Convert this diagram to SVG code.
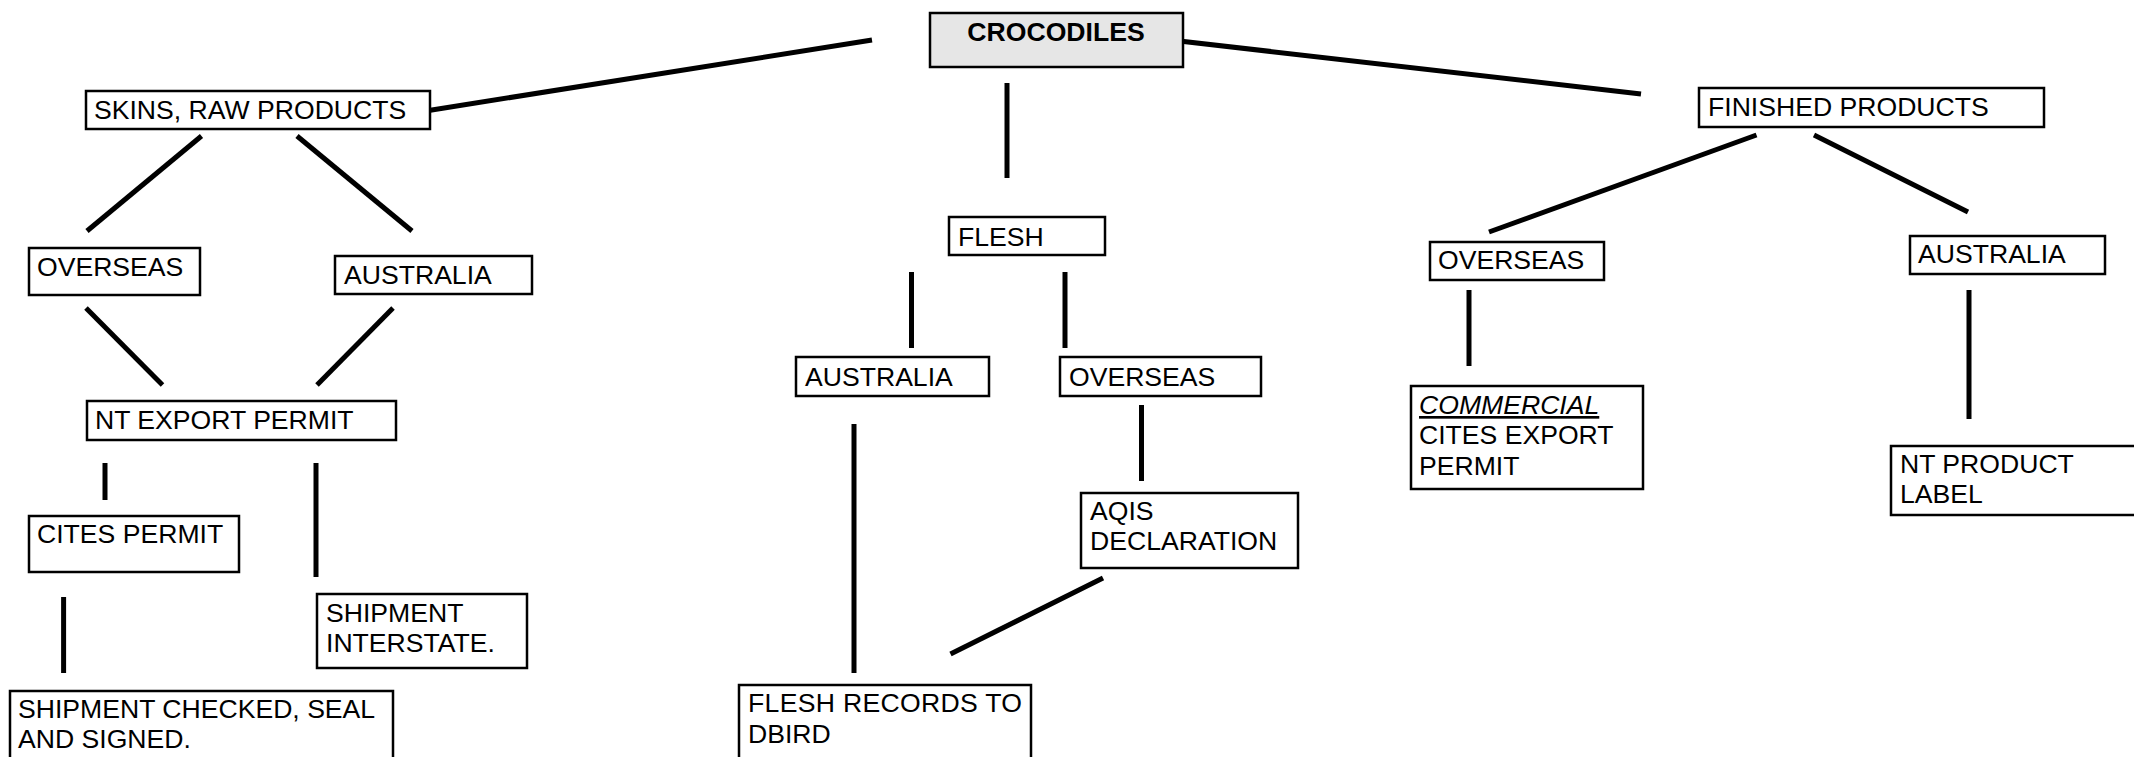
<svg xmlns="http://www.w3.org/2000/svg" width="2134" height="757" viewBox="0 0 2134 757">
<style>
.box{fill:#ffffff;stroke:#000;stroke-width:2.5}
.t{font-family:"Liberation Sans",Arial,sans-serif;font-size:26.6px;fill:#000}
.b{font-weight:bold}
.c line{stroke:#000;stroke-width:5}
</style>
<rect width="2134" height="757" fill="#ffffff"/>
<g id="connectors" class="c">
<line x1="413" y1="113" x2="872" y2="40"/>
<line x1="1162" y1="39" x2="1641" y2="94"/>
<line x1="1007" y1="83" x2="1007" y2="178"/>
<line x1="201.5" y1="136" x2="87" y2="231"/>
<line x1="297" y1="136" x2="412" y2="231"/>
<line x1="86" y1="308" x2="162.5" y2="385"/>
<line x1="393" y1="308" x2="317" y2="385"/>
<line x1="105" y1="463" x2="105" y2="500"/>
<line x1="316" y1="463" x2="316" y2="577"/>
<line x1="63.6" y1="597" x2="63.6" y2="673"/>
<line x1="911.5" y1="272" x2="911.5" y2="348"/>
<line x1="1065" y1="272" x2="1065" y2="348"/>
<line x1="854" y1="424" x2="854" y2="673"/>
<line x1="1141.5" y1="405" x2="1141.5" y2="481"/>
<line x1="1103" y1="578" x2="950.5" y2="654"/>
<line x1="1756.5" y1="135" x2="1489" y2="232"/>
<line x1="1814" y1="135" x2="1968" y2="212"/>
<line x1="1469" y1="290" x2="1469" y2="366"/>
<line x1="1969" y1="290" x2="1969" y2="419"/>
</g>
<g id="crocodiles"><rect x="930" y="13" width="253" height="54" fill="#e6e6e6" stroke="#000" stroke-width="2.5"/><text class="t b" x="1056" y="41" text-anchor="middle">CROCODILES</text></g>
<g id="skins"><rect class="box" x="86" y="91" width="344" height="38"/><text class="t" x="94" y="119">SKINS, RAW PRODUCTS</text></g>
<g id="overseas-left"><rect class="box" x="29" y="248" width="171" height="47"/><text class="t" x="37" y="276">OVERSEAS</text></g>
<g id="australia-left"><rect class="box" x="335" y="256" width="197" height="38"/><text class="t" x="344" y="284">AUSTRALIA</text></g>
<g id="nt-export-permit"><rect class="box" x="87" y="401" width="309" height="39"/><text class="t" x="95" y="429">NT EXPORT PERMIT</text></g>
<g id="cites-permit"><rect class="box" x="29" y="516" width="210" height="56"/><text class="t" x="37" y="543">CITES PERMIT</text></g>
<g id="shipment-interstate"><rect class="box" x="317" y="594" width="210" height="74"/><text class="t" x="326" y="622">SHIPMENT</text><text class="t" x="326" y="652">INTERSTATE.</text></g>
<g id="shipment-checked"><rect class="box" x="10" y="691" width="383" height="90"/><text class="t" x="18" y="718">SHIPMENT CHECKED, SEAL</text><text class="t" x="18" y="748">AND SIGNED.</text></g>
<g id="flesh"><rect class="box" x="949" y="217" width="156" height="38"/><text class="t" x="958" y="246">FLESH</text></g>
<g id="australia-mid"><rect class="box" x="796" y="357" width="193" height="39"/><text class="t" x="805" y="386">AUSTRALIA</text></g>
<g id="overseas-mid"><rect class="box" x="1060" y="357" width="201" height="39"/><text class="t" x="1069" y="386">OVERSEAS</text></g>
<g id="aqis"><rect class="box" x="1081" y="493" width="217" height="75"/><text class="t" x="1090" y="520">AQIS</text><text class="t" x="1090" y="550">DECLARATION</text></g>
<g id="flesh-records"><rect class="box" x="739" y="685" width="292" height="90"/><text class="t" x="748" y="712" textLength="274" lengthAdjust="spacing">FLESH RECORDS TO</text><text class="t" x="748" y="743">DBIRD</text></g>
<g id="finished-products"><rect class="box" x="1699" y="88" width="345" height="39"/><text class="t" x="1708" y="116">FINISHED PRODUCTS</text></g>
<g id="overseas-right"><rect class="box" x="1430" y="242" width="174" height="38"/><text class="t" x="1438" y="269">OVERSEAS</text></g>
<g id="australia-right"><rect class="box" x="1910" y="236" width="195" height="38"/><text class="t" x="1918" y="263">AUSTRALIA</text></g>
<g id="commercial-cites"><rect class="box" x="1411" y="386" width="232" height="103"/><text class="t" x="1419" y="414" font-style="italic" text-decoration="underline">COMMERCIAL</text><text class="t" x="1419" y="444">CITES EXPORT</text><text class="t" x="1419" y="475">PERMIT</text></g>
<g id="nt-product-label"><rect class="box" x="1891" y="446" width="260" height="69"/><text class="t" x="1900" y="473">NT PRODUCT</text><text class="t" x="1900" y="503">LABEL</text></g>
</svg>
